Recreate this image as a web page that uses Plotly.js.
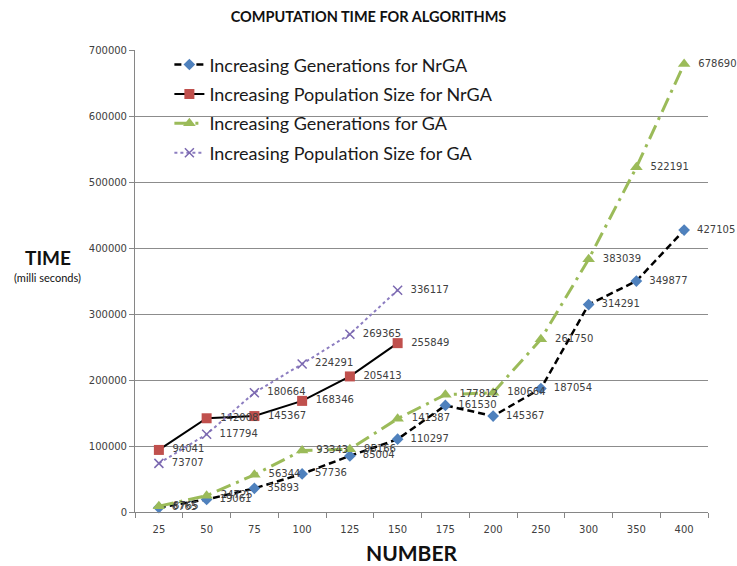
<!DOCTYPE html>
<html>
<head>
<meta charset="utf-8">
<script src="https://cdn.plot.ly/plotly-3.0.1.min.js"></script>
<style>html,body{margin:0;padding:0;background:#fff;}#chart{width:737px;height:566px;}</style>
</head>
<body>
<div id="chart"></div>
<script>
const categories = ["25","50","75","100","125","150","175","200","250","300","350","400"];
const popCategories = ["25","50","75","100","125","150"];
const genNrGA = [6765, 19061, 35893, 57736, 85004, 110297, 161530, 145367, 187054, 314291, 349877, 427105];
const popNrGA = [94041, 142008, 145367, 168346, 205413, 255849];
const genGA = [8765, 24725, 56344, 93343, 95166, 141387, 177812, 180664, 261750, 383039, 522191, 678690];
const popGA = [73707, 117794, 180664, 224291, 269365, 336117];
const seriesNames = ["Increasing Generations for NrGA", "Increasing Population Size for NrGA", "Increasing Generations for GA", "Increasing Population Size for GA"];
const yTicks = [0, 100000, 200000, 300000, 400000, 500000, 600000, 700000];

const labelFont = {family: "DejaVu Sans", size: 10, color: "#404040"};
const pad = v => "\u00a0\u00a0" + String(v);

const traces = [
  {
    x: categories, y: genNrGA, name: seriesNames[0], legendgroup: "a",
    mode: "lines+markers+text", text: genNrGA.map(pad), textposition: "middle right", textfont: labelFont,
    line: {color: "#000000", width: 2.5, dash: "7px,4px"},
    marker: {symbol: "diamond", size: 9, color: "#4F81BD"}
  },
  {
    x: popCategories, y: popNrGA, name: seriesNames[1], legendgroup: "b",
    mode: "lines+markers+text", text: popNrGA.map(pad), textposition: "middle right", textfont: labelFont,
    line: {color: "#000000", width: 2},
    marker: {symbol: "square", size: 10, color: "#C0504D"}
  },
  {
    x: categories, y: genGA, name: seriesNames[2], legendgroup: "c",
    mode: "lines+markers+text", text: genGA.map(pad), textposition: "middle right", textfont: labelFont,
    line: {color: "#9BBB59", width: 3, dash: "15px,6px,3px,6px"},
    marker: {symbol: "triangle-up", size: 11, color: "#9BBB59"}
  },
  {
    x: popCategories, y: popGA, name: seriesNames[3], legendgroup: "d",
    mode: "lines+markers+text", text: popGA.map(pad), textposition: "middle right", textfont: labelFont,
    line: {color: "#8C7DC0", width: 2, dash: "dot"},
    marker: {symbol: "x-thin-open", size: 9, color: "#7B68B0", line: {width: 1.5, color: "#7B68B0"}}
  }
];

const layout = {
  width: 737, height: 566,
  margin: {l: 135, r: 29, t: 50, b: 54},
  paper_bgcolor: "#ffffff", plot_bgcolor: "#ffffff",
  title: {text: "<b>COMPUTATION TIME FOR ALGORITHMS</b>", font: {family: "Lato", size: 14.5, color: "#111"},
          x: 0.5, xref: "container", y: 0.97, yref: "container", yanchor: "middle"},
  showlegend: true,
  legend: {x: 0.06, y: 1.008, xanchor: "left", yanchor: "top", bgcolor: "rgba(0,0,0,0)",
           font: {family: "Lato", size: 18, color: "#1a1a1a"}, tracegroupgap: 3, traceorder: "grouped"},
  xaxis: {
    type: "category", categoryorder: "array", categoryarray: categories,
    range: [-0.5, 11.5], showgrid: false, showline: true, linecolor: "#868686", linewidth: 1,
    ticks: "outside", ticklen: 5, tickcolor: "#868686", tickson: "boundaries",
    ticklabelstandoff: 8,
    tickfont: {family: "DejaVu Sans", size: 10, color: "#404040"},
    zeroline: false, fixedrange: true
  },
  yaxis: {
    range: [0, 700000], tickvals: yTicks, ticktext: yTicks.map(String),
    showgrid: true, gridcolor: "#8c8c8c", gridwidth: 1,
    showline: true, linecolor: "#868686", linewidth: 1,
    ticks: "outside", ticklen: 5, tickcolor: "#868686",
    tickfont: {family: "DejaVu Sans", size: 10, color: "#404040"},
    zeroline: false, fixedrange: true
  },
  annotations: [
    {text: "<b>TIME</b>", xref: "paper", yref: "paper", x: -0.152, y: 0.551, showarrow: false,
     font: {family: "Lato", size: 19, color: "#111"}, xanchor: "center", yanchor: "middle"},
    {text: "(milli seconds)", xref: "paper", yref: "paper", x: -0.152, y: 0.508, showarrow: false,
     font: {family: "Lato", size: 11, color: "#111"}, xanchor: "center", yanchor: "middle"},
    {text: "<b>NUMBER</b>", xref: "paper", yref: "paper", x: (412 - 135) / 573, y: -(552 - 512) / 462, showarrow: false,
     font: {family: "Lato", size: 21, color: "#111"}, xanchor: "center", yanchor: "middle"}
  ]
};

traces.forEach(t => t.cliponaxis = false);
Plotly.newPlot("chart", traces, layout, {displayModeBar: false, staticPlot: true});
</script>
</body>
</html>
